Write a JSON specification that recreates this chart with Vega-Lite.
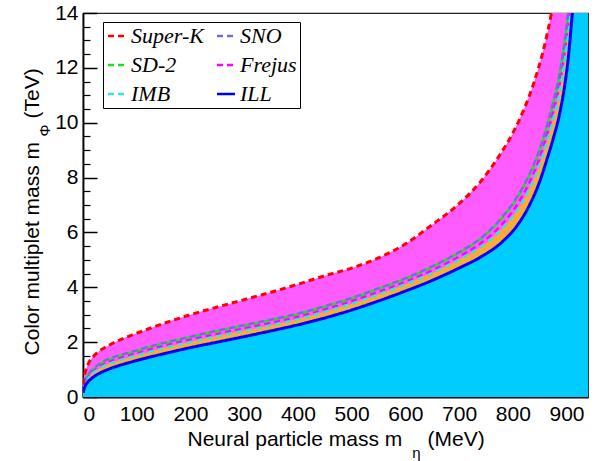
{
"$schema":"https://vega.github.io/schema/vega-lite/v6.json",
"width":505,"height":384,
"autosize":{"type":"none"},
"padding":{"left":83,"top":13,"right":14,"bottom":64},
"background":"white",
"data":{"values":[
{"curve":"Super-K","m":0.3,"phi":0.45},{"curve":"Super-K","m":1.5,"phi":0.70},{"curve":"Super-K","m":4,"phi":0.90},{"curve":"Super-K","m":10,"phi":1.22},{"curve":"Super-K","m":19,"phi":1.47},{"curve":"Super-K","m":30,"phi":1.67},{"curve":"Super-K","m":45,"phi":1.85},{"curve":"Super-K","m":65,"phi":2.05},{"curve":"Super-K","m":90,"phi":2.25},{"curve":"Super-K","m":120,"phi":2.47},{"curve":"Super-K","m":160,"phi":2.75},{"curve":"Super-K","m":200,"phi":3.00},{"curve":"Super-K","m":250,"phi":3.28},{"curve":"Super-K","m":300,"phi":3.55},{"curve":"Super-K","m":350,"phi":3.82},{"curve":"Super-K","m":400,"phi":4.11},{"curve":"Super-K","m":450,"phi":4.42},{"curve":"Super-K","m":500,"phi":4.70},{"curve":"Super-K","m":550,"phi":5.07},{"curve":"Super-K","m":600,"phi":5.58},{"curve":"Super-K","m":650,"phi":6.28},{"curve":"Super-K","m":700,"phi":7.05},{"curve":"Super-K","m":740,"phi":7.85},{"curve":"Super-K","m":775,"phi":8.80},{"curve":"Super-K","m":800,"phi":9.62},{"curve":"Super-K","m":820,"phi":10.45},{"curve":"Super-K","m":840,"phi":11.5},{"curve":"Super-K","m":855,"phi":12.5},{"curve":"Super-K","m":870,"phi":13.8},{"curve":"Super-K","m":880,"phi":14.9},{"curve":"Super-K","m":940,"phi":40},
{"curve":"ILL","m":0.3,"phi":0.15},{"curve":"ILL","m":1.5,"phi":0.25},{"curve":"ILL","m":4,"phi":0.40},{"curve":"ILL","m":8,"phi":0.52},{"curve":"ILL","m":15,"phi":0.66},{"curve":"ILL","m":25,"phi":0.80},{"curve":"ILL","m":40,"phi":0.95},{"curve":"ILL","m":60,"phi":1.10},{"curve":"ILL","m":80,"phi":1.22},{"curve":"ILL","m":100,"phi":1.33},{"curve":"ILL","m":130,"phi":1.48},{"curve":"ILL","m":160,"phi":1.62},{"curve":"ILL","m":200,"phi":1.80},{"curve":"ILL","m":250,"phi":2.00},{"curve":"ILL","m":300,"phi":2.20},{"curve":"ILL","m":350,"phi":2.41},{"curve":"ILL","m":400,"phi":2.63},{"curve":"ILL","m":450,"phi":2.88},{"curve":"ILL","m":500,"phi":3.17},{"curve":"ILL","m":550,"phi":3.50},{"curve":"ILL","m":600,"phi":3.86},{"curve":"ILL","m":650,"phi":4.25},{"curve":"ILL","m":700,"phi":4.70},{"curve":"ILL","m":740,"phi":5.10},{"curve":"ILL","m":780,"phi":5.65},{"curve":"ILL","m":810,"phi":6.30},{"curve":"ILL","m":830,"phi":6.95},{"curve":"ILL","m":850,"phi":7.85},{"curve":"ILL","m":865,"phi":8.75},{"curve":"ILL","m":875,"phi":9.40},{"curve":"ILL","m":888,"phi":10.40},{"curve":"ILL","m":897,"phi":11.40},{"curve":"ILL","m":903,"phi":12.30},{"curve":"ILL","m":910,"phi":13.80},{"curve":"ILL","m":916,"phi":15.3},{"curve":"ILL","m":940,"phi":40},
{"curve":"SD-2","m":0.3,"phi":0.30},{"curve":"SD-2","m":1.5,"phi":0.42},{"curve":"SD-2","m":4,"phi":0.58},{"curve":"SD-2","m":8,"phi":0.75},{"curve":"SD-2","m":15,"phi":0.93},{"curve":"SD-2","m":25,"phi":1.10},{"curve":"SD-2","m":40,"phi":1.30},{"curve":"SD-2","m":60,"phi":1.45},{"curve":"SD-2","m":80,"phi":1.57},{"curve":"SD-2","m":100,"phi":1.68},{"curve":"SD-2","m":130,"phi":1.85},{"curve":"SD-2","m":160,"phi":2.00},{"curve":"SD-2","m":200,"phi":2.18},{"curve":"SD-2","m":250,"phi":2.40},{"curve":"SD-2","m":300,"phi":2.60},{"curve":"SD-2","m":350,"phi":2.80},{"curve":"SD-2","m":400,"phi":3.02},{"curve":"SD-2","m":450,"phi":3.29},{"curve":"SD-2","m":500,"phi":3.59},{"curve":"SD-2","m":550,"phi":3.94},{"curve":"SD-2","m":600,"phi":4.31},{"curve":"SD-2","m":650,"phi":4.74},{"curve":"SD-2","m":700,"phi":5.26},{"curve":"SD-2","m":740,"phi":5.76},{"curve":"SD-2","m":780,"phi":6.52},{"curve":"SD-2","m":810,"phi":7.32},{"curve":"SD-2","m":830,"phi":8.05},{"curve":"SD-2","m":850,"phi":9.00},{"curve":"SD-2","m":865,"phi":9.95},{"curve":"SD-2","m":875,"phi":10.70},{"curve":"SD-2","m":888,"phi":11.85},{"curve":"SD-2","m":897,"phi":13.00},{"curve":"SD-2","m":903,"phi":14.00},{"curve":"SD-2","m":910,"phi":15.5},{"curve":"SD-2","m":940,"phi":40},
{"curve":"SNO","m":0.3,"phi":0.32},{"curve":"SNO","m":1.5,"phi":0.44},{"curve":"SNO","m":4,"phi":0.60},{"curve":"SNO","m":8,"phi":0.77},{"curve":"SNO","m":15,"phi":0.95},{"curve":"SNO","m":25,"phi":1.12},{"curve":"SNO","m":40,"phi":1.32},{"curve":"SNO","m":60,"phi":1.47},{"curve":"SNO","m":80,"phi":1.59},{"curve":"SNO","m":100,"phi":1.70},{"curve":"SNO","m":130,"phi":1.87},{"curve":"SNO","m":160,"phi":2.02},{"curve":"SNO","m":200,"phi":2.20},{"curve":"SNO","m":250,"phi":2.42},{"curve":"SNO","m":300,"phi":2.62},{"curve":"SNO","m":350,"phi":2.82},{"curve":"SNO","m":400,"phi":3.04},{"curve":"SNO","m":450,"phi":3.31},{"curve":"SNO","m":500,"phi":3.61},{"curve":"SNO","m":550,"phi":3.96},{"curve":"SNO","m":600,"phi":4.33},{"curve":"SNO","m":650,"phi":4.76},{"curve":"SNO","m":700,"phi":5.28},{"curve":"SNO","m":740,"phi":5.78},{"curve":"SNO","m":780,"phi":6.55},{"curve":"SNO","m":810,"phi":7.35},{"curve":"SNO","m":830,"phi":8.08},{"curve":"SNO","m":850,"phi":9.03},{"curve":"SNO","m":865,"phi":9.98},{"curve":"SNO","m":875,"phi":10.73},{"curve":"SNO","m":888,"phi":11.88},{"curve":"SNO","m":897,"phi":13.03},{"curve":"SNO","m":903,"phi":14.03},{"curve":"SNO","m":910,"phi":15.5},{"curve":"SNO","m":940,"phi":40},
{"curve":"Frejus","m":0.3,"phi":0.26},{"curve":"Frejus","m":1.5,"phi":0.38},{"curve":"Frejus","m":4,"phi":0.54},{"curve":"Frejus","m":8,"phi":0.69},{"curve":"Frejus","m":15,"phi":0.86},{"curve":"Frejus","m":25,"phi":1.03},{"curve":"Frejus","m":40,"phi":1.21},{"curve":"Frejus","m":60,"phi":1.36},{"curve":"Frejus","m":80,"phi":1.48},{"curve":"Frejus","m":100,"phi":1.59},{"curve":"Frejus","m":130,"phi":1.76},{"curve":"Frejus","m":160,"phi":1.91},{"curve":"Frejus","m":200,"phi":2.09},{"curve":"Frejus","m":250,"phi":2.30},{"curve":"Frejus","m":300,"phi":2.50},{"curve":"Frejus","m":350,"phi":2.70},{"curve":"Frejus","m":400,"phi":2.92},{"curve":"Frejus","m":450,"phi":3.19},{"curve":"Frejus","m":500,"phi":3.49},{"curve":"Frejus","m":550,"phi":3.83},{"curve":"Frejus","m":600,"phi":4.20},{"curve":"Frejus","m":650,"phi":4.62},{"curve":"Frejus","m":700,"phi":5.12},{"curve":"Frejus","m":740,"phi":5.60},{"curve":"Frejus","m":780,"phi":6.30},{"curve":"Frejus","m":810,"phi":7.07},{"curve":"Frejus","m":830,"phi":7.78},{"curve":"Frejus","m":850,"phi":8.71},{"curve":"Frejus","m":865,"phi":9.65},{"curve":"Frejus","m":875,"phi":10.38},{"curve":"Frejus","m":888,"phi":11.50},{"curve":"Frejus","m":897,"phi":12.62},{"curve":"Frejus","m":903,"phi":13.60},{"curve":"Frejus","m":910,"phi":15.1},{"curve":"Frejus","m":940,"phi":40},
{"curve":"IMB","m":0.3,"phi":0.23},{"curve":"IMB","m":1.5,"phi":0.34},{"curve":"IMB","m":4,"phi":0.50},{"curve":"IMB","m":8,"phi":0.65},{"curve":"IMB","m":15,"phi":0.81},{"curve":"IMB","m":25,"phi":0.97},{"curve":"IMB","m":40,"phi":1.14},{"curve":"IMB","m":60,"phi":1.29},{"curve":"IMB","m":80,"phi":1.41},{"curve":"IMB","m":100,"phi":1.52},{"curve":"IMB","m":130,"phi":1.68},{"curve":"IMB","m":160,"phi":1.83},{"curve":"IMB","m":200,"phi":2.01},{"curve":"IMB","m":250,"phi":2.22},{"curve":"IMB","m":300,"phi":2.42},{"curve":"IMB","m":350,"phi":2.62},{"curve":"IMB","m":400,"phi":2.84},{"curve":"IMB","m":450,"phi":3.11},{"curve":"IMB","m":500,"phi":3.40},{"curve":"IMB","m":550,"phi":3.74},{"curve":"IMB","m":600,"phi":4.11},{"curve":"IMB","m":650,"phi":4.52},{"curve":"IMB","m":700,"phi":5.01},{"curve":"IMB","m":740,"phi":5.46},{"curve":"IMB","m":780,"phi":6.13},{"curve":"IMB","m":810,"phi":6.86},{"curve":"IMB","m":830,"phi":7.56},{"curve":"IMB","m":850,"phi":8.48},{"curve":"IMB","m":865,"phi":9.41},{"curve":"IMB","m":875,"phi":10.12},{"curve":"IMB","m":888,"phi":11.20},{"curve":"IMB","m":897,"phi":12.30},{"curve":"IMB","m":903,"phi":13.25},{"curve":"IMB","m":910,"phi":14.7},{"curve":"IMB","m":940,"phi":40}
]},
"config":{
"view":{"stroke":"#222","strokeWidth":1.2},
"axis":{"grid":false,"labelFont":"Liberation Sans","titleFont":"Liberation Sans","labelColor":"#000","titleColor":"#000","tickColor":"#000","domainColor":"#000","labelFontSize":21,"titleFontSize":21,"titleFontWeight":"normal"},
"legend":{"orient":"none","legendX":20,"legendY":9,"columns":2,"symbolType":"stroke","symbolSize":324,"symbolStrokeWidth":2.5,"labelFont":"Liberation Serif","labelFontStyle":"italic","labelFontSize":22,"labelColor":"#000","labelOffset":3,"rowPadding":7,"columnPadding":8,"padding":3,"strokeColor":"#000","fillColor":"#fff"}
},
"resolve":{"axis":{"x":"independent","y":"independent"}},
"layer":[
{"transform":[{"filter":"datum.curve==='Super-K'"}],
 "mark":{"type":"area","color":"#ff5cff","interpolate":"monotone","clip":true},
 "encoding":{
  "x":{"field":"m","type":"quantitative","scale":{"domain":[0,940],"nice":false,"zero":false},
   "axis":{"orient":"bottom","values":[0,100,200,300,400,500,600,700,800,900],"tickSize":-11,"tickWidth":1.5,"domainWidth":1.8,"labelPadding":17,"title":"Neural particle mass m","titleX":104,"titleY":48,"titleAlign":"left","titleBaseline":"alphabetic","titleAnchor":"start"}},
  "y":{"field":"phi","type":"quantitative","scale":{"domain":[0,14],"nice":false,"zero":true},
   "axis":{"orient":"left","values":[0,2,4,6,8,10,12,14],"tickSize":-14,"tickWidth":1.5,"domainWidth":1.8,"labelPadding":19,"title":"Color multiplet mass m","titleX":-45,"titleY":342,"titleAlign":"left","titleAngle":-90,"titleBaseline":"alphabetic","titleAnchor":"start"}}
 }},
{"transform":[{"filter":"datum.curve==='IMB'"}],
 "mark":{"type":"area","color":"#ffaa33","interpolate":"monotone","clip":true},
 "encoding":{
  "x":{"field":"m","type":"quantitative","axis":{"orient":"bottom","values":[20,40,60,80,120,140,160,180,220,240,260,280,320,340,360,380,420,440,460,480,520,540,560,580,620,640,660,680,720,740,760,780,820,840,860,880,920],"labels":false,"domain":false,"tickSize":-5.5,"tickWidth":1.2,"title":"(MeV)","titleX":344,"titleY":48,"titleAlign":"left","titleBaseline":"alphabetic","titleAnchor":"start"}},
  "y":{"field":"phi","type":"quantitative","axis":{"orient":"left","values":[0.5,1,1.5,2.5,3,3.5,4.5,5,5.5,6.5,7,7.5,8.5,9,9.5,10.5,11,11.5,12.5,13,13.5],"labels":false,"domain":false,"tickSize":-7,"tickWidth":1.2,"title":"(TeV)","titleX":-45,"titleY":105,"titleAlign":"left","titleAngle":-90,"titleBaseline":"alphabetic","titleAnchor":"start"}}
 }},
{"transform":[{"filter":"datum.curve==='ILL'"}],
 "mark":{"type":"area","color":"#00ccff","interpolate":"monotone","clip":true},
 "encoding":{
  "x":{"field":"m","type":"quantitative","axis":{"orient":"bottom","labels":false,"ticks":false,"domain":false,"title":"η","titleFontSize":15,"titleX":333,"titleY":60,"titleAlign":"center","titleBaseline":"alphabetic","titleAnchor":"start"}},
  "y":{"field":"phi","type":"quantitative","axis":{"orient":"left","labels":false,"ticks":false,"domain":false,"title":"Φ","titleFontSize":15,"titleX":-34,"titleY":117,"titleAlign":"center","titleAngle":-90,"titleBaseline":"alphabetic","titleAnchor":"start"}}
 }},
{"transform":[{"filter":"datum.curve==='IMB' || datum.curve==='Frejus' || datum.curve==='SD-2'"}],
 "mark":{"type":"line","strokeWidth":2.5,"interpolate":"monotone","clip":true},
 "encoding":{
  "x":{"field":"m","type":"quantitative","axis":null},
  "y":{"field":"phi","type":"quantitative","axis":null},
  "color":{"field":"curve","type":"nominal","scale":{"domain":["Super-K","SD-2","IMB","SNO","Frejus","ILL"],"range":["#ff0000","#1fe01f","#30e8d8","#6f6fd8","#ff00ff","#0000ff"]},"legend":{"title":null}},
  "strokeDash":{"field":"curve","type":"nominal","scale":{"domain":["Super-K","SD-2","IMB","SNO","Frejus","ILL"],"range":[[6,4],[6,4],[6,4],[6,4],[6,4],[1,0]]},"legend":{"title":null}}
 }},
{"transform":[{"filter":"datum.curve==='SNO'"}],
 "mark":{"type":"line","strokeWidth":2.5,"interpolate":"monotone","clip":true,"strokeDashOffset":5},
 "encoding":{
  "x":{"field":"m","type":"quantitative","axis":null},
  "y":{"field":"phi","type":"quantitative","axis":null},
  "color":{"field":"curve","type":"nominal","legend":{"title":null}},
  "strokeDash":{"field":"curve","type":"nominal","legend":{"title":null}}
 }},
{"transform":[{"filter":"datum.curve==='Super-K'"}],
 "mark":{"type":"line","strokeWidth":3,"interpolate":"monotone","clip":true},
 "encoding":{
  "x":{"field":"m","type":"quantitative","axis":null},
  "y":{"field":"phi","type":"quantitative","axis":null},
  "color":{"field":"curve","type":"nominal","legend":{"title":null}},
  "strokeDash":{"field":"curve","type":"nominal","legend":{"title":null}}
 }},
{"transform":[{"filter":"datum.curve==='ILL'"}],
 "mark":{"type":"line","strokeWidth":3,"interpolate":"monotone","clip":true},
 "encoding":{
  "x":{"field":"m","type":"quantitative","axis":null},
  "y":{"field":"phi","type":"quantitative","axis":null},
  "color":{"field":"curve","type":"nominal","legend":{"title":null}},
  "strokeDash":{"field":"curve","type":"nominal","legend":{"title":null}}
 }}
]
}
